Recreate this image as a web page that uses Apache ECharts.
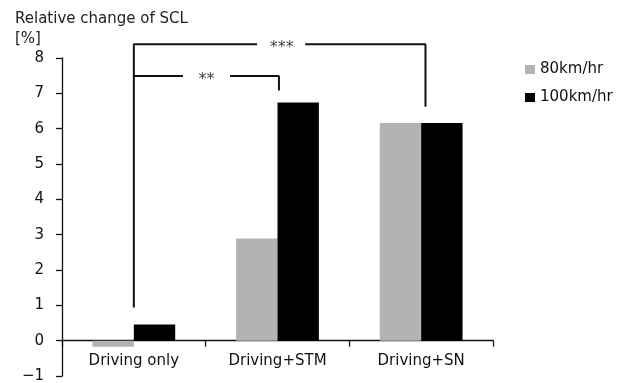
<!DOCTYPE html>
<html>
<head>
<meta charset="utf-8">
<script src="https://cdn.jsdelivr.net/npm/echarts@6/dist/echarts.min.js"></script>
<style>html,body{margin:0;padding:0;background:#fff}#c{width:619px;height:383px}</style>
</head>
<body>
<div id="c"></div>
<script>
const categories = ['Driving only', 'Driving+STM', 'Driving+SN'];
const seriesNames = ['80km/hr', '100km/hr'];
const values80 = [-0.17, 2.89, 6.16];
const values100 = [0.46, 6.74, 6.16];
const yTicks = [-1, 0, 1, 2, 3, 4, 5, 6, 7, 8];
// significance brackets in (category index, value) coordinates
const bracket3Left = [[0, 0.94], [0, 8.39], [0.858, 8.39]];
const bracket3Right = [[1.193, 8.39], [2.03, 8.39], [2.03, 6.62]];
const bracket2Left = [[0, 7.49], [0.342, 7.49]];
const bracket2Right = [[0.67, 7.49], [1.01, 7.49], [1.01, 7.08]];
const sigLabels = [{ text: '***', pos: [1.03, 8.39] }, { text: '**', pos: [0.505, 7.49] }];

const FONT = 'DejaVu Sans';
const chart = echarts.init(document.getElementById('c'), null, { renderer: 'canvas' });

function bracketSeries(data) {
  return {
    type: 'line', xAxisIndex: 1, yAxisIndex: 0, data: data,
    symbol: 'none', clip: false, silent: true, animation: false,
    lineStyle: { color: '#111', width: 2 }, z: 5
  };
}

chart.setOption({
  animation: false,
  textStyle: { fontFamily: FONT },
  title: [
    { text: 'Relative change of SCL', left: 10, top: 7, textStyle: { fontFamily: FONT, fontSize: 15, fontWeight: 'normal', color: '#222' } },
    { text: '[%]', left: 10, top: 27, textStyle: { fontFamily: FONT, fontSize: 15, fontWeight: 'normal', color: '#222' } }
  ],
  legend: {
    orient: 'vertical', left: 520, top: 57, itemWidth: 10, itemHeight: 9, itemGap: 13,
    icon: 'rect', data: seriesNames,
    textStyle: { fontFamily: FONT, fontSize: 15, color: '#111' }
  },
  grid: { left: 62, right: 126, top: 58, bottom: 7, containLabel: false, outerBoundsMode: 'none' },
  xAxis: [
    {
      type: 'category', data: categories, boundaryGap: true,
      axisLine: { onZero: true, lineStyle: { color: '#111', width: 1.3 } },
      axisTick: { show: true, interval: 0, length: 6, inside: false, lineStyle: { color: '#111', width: 1.3 } },
      axisLabel: { interval: 0, margin: -22, fontFamily: FONT, fontSize: 15, color: '#111' }
    },
    { type: 'value', min: -0.5, max: 2.5, show: false }
  ],
  yAxis: {
    type: 'value', min: -1, max: 8, interval: 1,
    splitLine: { show: false },
    axisLine: { show: true, onZero: false, lineStyle: { color: '#111', width: 1.3 } },
    axisTick: { show: true, length: 6, inside: false, lineStyle: { color: '#111', width: 1.3 } },
    axisLabel: { margin: 18, fontFamily: FONT, fontSize: 15, color: '#111',
      formatter: v => yTicks.includes(v) ? (v < 0 ? '\u2212' + Math.abs(v) : String(v)) : '' }
  },
  series: [
    { name: seriesNames[0], type: 'bar', data: values80, barGap: '0%', barCategoryGap: '42.4%', itemStyle: { color: '#b3b3b3' } },
    { name: seriesNames[1], type: 'bar', data: values100, barGap: '0%', barCategoryGap: '42.4%', itemStyle: { color: '#000' } },
    bracketSeries(bracket3Left),
    bracketSeries(bracket3Right),
    bracketSeries(bracket2Left),
    bracketSeries(bracket2Right),
    {
      type: 'scatter', xAxisIndex: 1, yAxisIndex: 0, symbolSize: 0, clip: false, silent: true,
      data: sigLabels.map(s => ({ value: s.pos, name: s.text })),
      label: { show: true, position: 'inside', formatter: p => p.name, offset: [0, 3.5],
        fontFamily: FONT, fontSize: 16, color: '#111' }
    }
  ]
});
</script>
</body>
</html>
